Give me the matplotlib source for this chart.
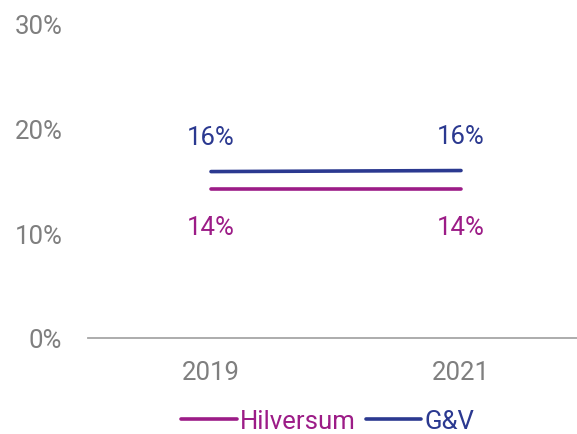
import numpy as np
import matplotlib.pyplot as plt

plt.rcParams['font.family'] = ['Roboto', 'DejaVu Sans']

jaren = ['2019', '2021']
hilversum = [14.2, 14.2]
genv = [15.9, 16.0]
hilversum_labels = ['14%', '14%']
genv_labels = ['16%', '16%']

paars = '#9C1C87'
blauw = '#2B3990'
grijs = '#7f7f7f'

fig = plt.figure(figsize=(5.77, 4.35), dpi=100)
ax = fig.add_axes([88 / 577, 96 / 435, 489 / 577, 314 / 435])

x = np.arange(len(jaren))
ax.plot(x, hilversum, color=paars, lw=2.6, solid_capstyle='round', label='Hilversum')
ax.plot(x, genv, color=blauw, lw=2.6, solid_capstyle='round', label='G&V')

for i in range(len(jaren)):
    ax.annotate(genv_labels[i], (x[i], genv[i]), xytext=(0, 25), textcoords='offset points',
                ha='center', va='center', color=blauw, fontsize=18.5)
    ax.annotate(hilversum_labels[i], (x[i], hilversum[i]), xytext=(0, -27), textcoords='offset points',
                ha='center', va='center', color=paars, fontsize=18.5)

ax.set_xlim(-0.492, 1.464)
ax.set_ylim(0, 30)
ax.set_yticks([0, 10, 20, 30])
ax.set_yticklabels(['0%', '10%', '20%', '30%'])
ax.set_xticks(x)
ax.set_xticklabels(jaren)
ax.tick_params(axis='both', length=0, labelsize=18.5, labelcolor=grijs)
ax.tick_params(axis='y', pad=18.5)
ax.tick_params(axis='x', pad=16)

for s in ['top', 'right', 'left']:
    ax.spines[s].set_visible(False)
ax.spines['bottom'].set_color('#a6a6a6')
ax.spines['bottom'].set_linewidth(1.3)

leg = ax.legend(loc='lower center', bbox_to_anchor=(0.49, -0.345), ncol=2, frameon=False,
                fontsize=18.5, handlelength=2.15, handletextpad=0.12, columnspacing=0.4,
                borderpad=0)
for t, c in zip(leg.get_texts(), [paars, blauw]):
    t.set_color(c)

fig.savefig('out.png')
